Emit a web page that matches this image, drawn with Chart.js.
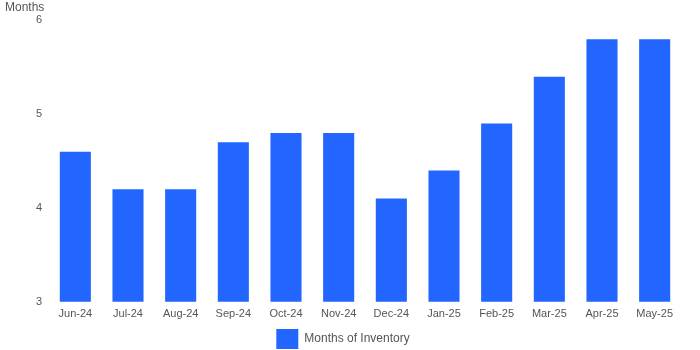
<!DOCTYPE html>
<html>
<head>
<meta charset="utf-8">
<script src="https://cdn.jsdelivr.net/npm/chart.js@4.4.1/dist/chart.umd.min.js"></script>
<style>
  html, body { margin: 0; padding: 0; background: #fff; }
  #wrap { width: 700px; height: 350px; }
</style>
</head>
<body>
<div id="wrap"><canvas id="grafico"></canvas></div>
<script>
const meses = ['Jun-24', 'Jul-24', 'Aug-24', 'Sep-24', 'Oct-24', 'Nov-24', 'Dec-24', 'Jan-25', 'Feb-25', 'Mar-25', 'Apr-25', 'May-25'];
const estoque = [4.6, 4.2, 4.2, 4.7, 4.8, 4.8, 4.1, 4.4, 4.9, 5.4, 5.8, 5.8];
const yTicks = [3, 4, 5, 6];

Chart.defaults.font.family = '"Liberation Sans", Arial, sans-serif';
Chart.defaults.color = '#555';

const ctx = document.getElementById('grafico').getContext('2d');
new Chart(ctx, {
  type: 'bar',
  data: {
    labels: meses,
    datasets: [{
      label: 'Months of Inventory',
      data: estoque,
      backgroundColor: '#2266ff',
      barPercentage: 0.59,
      categoryPercentage: 1
    }]
  },
  options: {
    responsive: true,
    maintainAspectRatio: false,
    animation: false,
    layout: { padding: { left: 5, right: 19, top: 0, bottom: -9 } },
    plugins: {
      title: {
        display: true,
        text: 'Months',
        align: 'start',
        color: '#555',
        font: { size: 12, weight: 'normal' },
        padding: { top: 0, bottom: 6 }
      },
      legend: {
        position: 'bottom',
        labels: { boxWidth: 22, boxHeight: 20, font: { size: 12 }, padding: 2 }
      },
      tooltip: { enabled: false }
    },
    scales: {
      x: {
        grid: { display: false, drawTicks: false },
        border: { display: false },
        ticks: { font: { size: 11 }, padding: 6 }
      },
      y: {
        min: 3,
        max: 6,
        afterBuildTicks: s => { s.ticks = yTicks.map(v => ({ value: v })); },
        afterFit: s => { s.width = 44; },
        grid: { display: false, drawTicks: false },
        border: { display: false },
        ticks: { font: { size: 11 }, padding: 7 }
      }
    }
  }
});
</script>
</body>
</html>
